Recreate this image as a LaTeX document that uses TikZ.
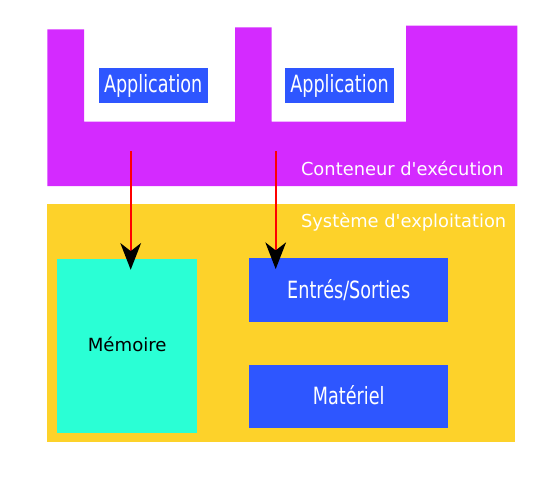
\documentclass[tikz,border=0pt]{standalone}
\usepackage{fontspec}
\setmainfont{DejaVu Sans}
\usepackage{graphicx}
\usepackage{tikz}
\usetikzlibrary{arrows.meta,calc,positioning}
\definecolor{runpurple}{RGB}{212,42,255}
\definecolor{osyellow}{RGB}{253,210,42}
\definecolor{boxblue}{RGB}{46,86,255}
\definecolor{memcyan}{RGB}{42,255,213}
\newcommand{\tall}[1]{\scalebox{1}[1.35]{#1}}
\tikzset{
    x=0.75pt,y=-0.75pt,
    call/.style={red,line width=1.5pt,-{Stealth[black,length=20pt,width=15.5pt,inset=6pt]},shorten >=-8.25pt},
    appbox/.style={rectangle,fill=boxblue,text=white,inner sep=0pt,minimum width=81.75pt,minimum height=25.8pt,font=\fontsize{13.2}{16}\selectfont},
    hwbox/.style={appbox,minimum width=149pt,minimum height=47.8pt},
    membox/.style={rectangle,fill=memcyan,inner sep=0pt,minimum width=104.8pt,minimum height=130.3pt,font=\fontsize{13.6}{16}\selectfont},
    layer/.style={text=white,inner sep=0pt,font=\fontsize{13.4}{16}\selectfont}
}
\begin{document}
\begin{tikzpicture}
    \useasboundingbox (0,0) rectangle (546,478);
    \fill[runpurple] (47.3,29.3) -- (84,29.3) -- (84,121.7) -- (235,121.7) -- (235,27.3) -- (271.7,27.3)
        -- (271.7,121.7) -- (406,121.7) -- (406,25.7) -- (517.3,25.7) -- (517.3,186) -- (47.3,186) -- cycle;
    \fill[osyellow] (47.3,204.3) rectangle (515,441.7);

    \node (app1) [appbox] at (153.2,85.5) {\tall{Application}};
    \node (app2) [appbox] at (339.5,85.5) {\tall{Application}};
    \node (run) [layer,anchor=base east] at (504,175) {Conteneur d\textquotesingle exécution};
    \node (os) [layer,anchor=base east] at (506.5,227.5) {Système d\textquotesingle exploitation};
    \node (mem) [membox] at (127.2,345.9) {\raisebox{3pt}{Mémoire}};
    \node (io) [hwbox] at (348.7,290.2) {\tall{Entrés/Sorties}};
    \node (hw) [hwbox,below = 31.5pt of io] {\raisebox{2pt}{\tall{Matériel}}};

    \coordinate (s1) at (130.7,151);
    \coordinate (s2) at (275.7,151);
    \draw[call] (s1) -- (s1 |- mem.north);
    \draw[call] (s2) -- (s2 |- io.north);
\end{tikzpicture}
\end{document}
